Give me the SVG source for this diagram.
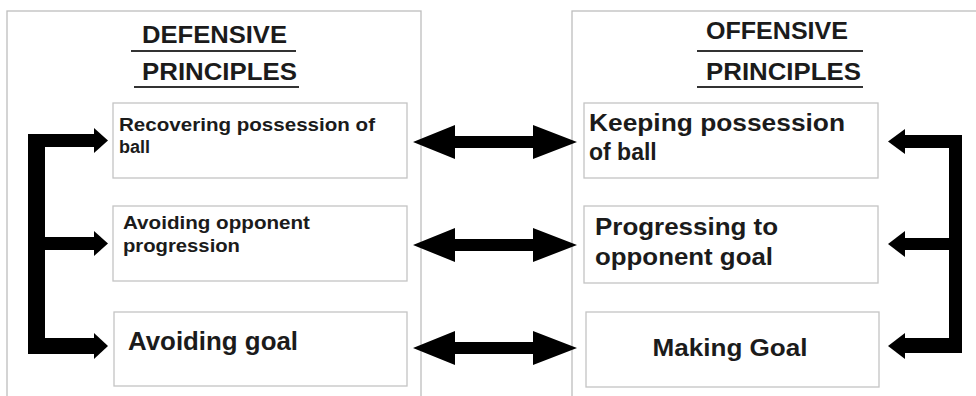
<svg xmlns="http://www.w3.org/2000/svg" width="976" height="396" viewBox="0 0 976 396">
<style>
.panel{fill:#fff;stroke:#bdbdbd;stroke-width:1.3}
.box{fill:#fff;stroke:#c4c4c4;stroke-width:1.3}
.t{font-family:"Liberation Sans",Arial,sans-serif;font-weight:bold;fill:#1b1b1b}
.ul{stroke:#333;stroke-width:2}
.c{fill:#000}
</style>
<rect width="976" height="396" fill="#fff"/>
<g id="defensive-panel">
<rect class="panel" x="7" y="11" width="414" height="395"/>
<text class="t" x="142" y="43" font-size="24" textLength="145" lengthAdjust="spacingAndGlyphs">DEFENSIVE</text>
<line class="ul" x1="131" y1="51" x2="296" y2="51"/>
<text class="t" x="142" y="80" font-size="24" textLength="155" lengthAdjust="spacingAndGlyphs">PRINCIPLES</text>
<line class="ul" x1="134" y1="87" x2="299" y2="87"/>
</g>
<g id="offensive-panel">
<rect class="panel" x="572" y="11" width="414" height="395"/>
<text class="t" x="706" y="39" font-size="24" textLength="142" lengthAdjust="spacingAndGlyphs">OFFENSIVE</text>
<line class="ul" x1="697" y1="51" x2="863" y2="51"/>
<text class="t" x="706" y="80" font-size="24" textLength="155" lengthAdjust="spacingAndGlyphs">PRINCIPLES</text>
<line class="ul" x1="697" y1="87" x2="863" y2="87"/>
</g>
<g id="d1">
<rect class="box" x="113" y="103" width="294" height="75"/>
<text class="t" x="119" y="131" font-size="18" textLength="256" lengthAdjust="spacingAndGlyphs">Recovering possession of</text>
<text class="t" x="119" y="153" font-size="18">ball</text>
</g>
<g id="d2">
<rect class="box" x="113" y="206" width="294" height="75"/>
<text class="t" x="123" y="229" font-size="18" textLength="187" lengthAdjust="spacingAndGlyphs">Avoiding opponent</text>
<text class="t" x="123" y="252" font-size="18" textLength="117" lengthAdjust="spacingAndGlyphs">progression</text>
</g>
<g id="d3">
<rect class="box" x="114" y="312" width="293" height="74"/>
<text class="t" x="128" y="350" font-size="26" textLength="170" lengthAdjust="spacingAndGlyphs">Avoiding goal</text>
</g>
<g id="o1">
<rect class="box" x="584" y="103" width="294" height="75"/>
<text class="t" x="589" y="131" font-size="23" textLength="256" lengthAdjust="spacingAndGlyphs">Keeping possession</text>
<text class="t" x="589" y="160" font-size="23">of ball</text>
</g>
<g id="o2">
<rect class="box" x="584" y="206" width="294" height="77"/>
<text class="t" x="595" y="235" font-size="23" textLength="183" lengthAdjust="spacingAndGlyphs">Progressing to</text>
<text class="t" x="595" y="265" font-size="23" textLength="178" lengthAdjust="spacingAndGlyphs">opponent goal</text>
</g>
<g id="o3">
<rect class="box" x="586" y="312" width="293" height="75"/>
<text class="t" x="730" y="356" font-size="23" text-anchor="middle" textLength="155" lengthAdjust="spacingAndGlyphs">Making Goal</text>
</g>
<g id="connectors">
<polygon class="c" points="413,142 455,125 455,136 533,136 533,125 577,142 533,159 533,148 455,148 455,159"/>
<polygon class="c" points="413,245 455,228 455,239 533,239 533,228 577,245 533,262 533,251 455,251 455,262"/>
<polygon class="c" points="413,348 455,331 455,342 533,342 533,331 577,348 533,365 533,354 455,354 455,365"/>
<rect class="c" x="28" y="134" width="17" height="220"/>
<rect class="c" x="28" y="134" width="67" height="13"/>
<polygon class="c" points="94,128 108,140.5 94,153"/>
<rect class="c" x="44" y="237" width="51" height="13"/>
<polygon class="c" points="94,231 108,243.5 94,256"/>
<rect class="c" x="28" y="338" width="67" height="16"/>
<polygon class="c" points="94,333 108,346 94,359"/>
<rect class="c" x="949" y="135" width="13" height="218"/>
<rect class="c" x="904" y="135" width="58" height="13"/>
<polygon class="c" points="905,129 888,141.5 905,154"/>
<rect class="c" x="904" y="238" width="46" height="12"/>
<polygon class="c" points="905,231 888,244 905,257"/>
<rect class="c" x="904" y="338" width="58" height="15"/>
<polygon class="c" points="905,333 888,346 905,359"/>
</g>
</svg>
